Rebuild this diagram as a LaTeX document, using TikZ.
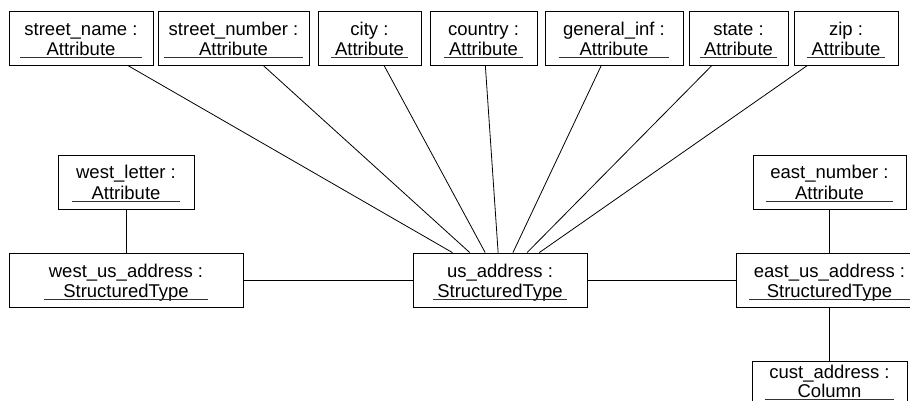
\documentclass[tikz,border=0pt]{standalone}
\usepackage{fontspec}
\setmainfont{Liberation Sans}
\usepackage{tikz}

% object label: name on top, type underlined below
\newlength{\objwd}
\newcommand{\objlabel}[3][24pt]{%
  \settowidth{\objwd}{#2}%
  \setbox0=\hbox{#3}%
  \ifdim\wd0>\objwd \objwd=\wd0 \fi
  \addtolength{\objwd}{9pt}%
  \begin{tabular}{@{}c@{}}
    \rule{0pt}{#1}#2\\
    \makebox[\objwd]{#3}\llap{\color{black!80}\rule[-2.5pt]{\objwd}{0.8pt}}\rule[-10pt]{0pt}{0pt}
  \end{tabular}}

\begin{document}
\begin{tikzpicture}[x=1pt, y=-1pt,
  objbox/.style={draw, line width=0.8pt, fill=white, inner sep=0pt, font=\fontsize{18.5}{20}\selectfont},
  link/.style={line width=0.8pt}
]
  \useasboundingbox (0,0) rectangle (910,401);
  \clip (0,0) rectangle (910,401);

  % Top row attributes
  \node[objbox, minimum width=144pt] (streetname) at (81,38.5) {\objlabel{street\_name :}{Attribute}};
  \node[objbox, minimum width=151pt] (streetnumber) at (233.5,38.5) {\objlabel{street\_number :}{Attribute}};
  \node[objbox, minimum width=103pt] (city) at (369.5,38.5) {\objlabel{city :}{Attribute}};
  \node[objbox, minimum width=107pt] (country) at (483.5,38.5) {\objlabel{country :}{Attribute}};
  \node[objbox, minimum width=138pt] (generalinf) at (614,38.5) {\objlabel{general\_inf :}{Attribute}};
  \node[objbox, minimum width=99pt] (state) at (738.5,38.5) {\objlabel{state :}{Attribute}};
  \node[objbox, minimum width=104pt] (zip) at (846,38.5) {\objlabel{zip :}{Attribute}};

  % Structured types
  \node[objbox, minimum width=174pt] (usaddr) at (500,280) {\objlabel{us\_address :}{StructuredType}};
  \node[objbox, minimum width=234pt] (westaddr) at (126,280) {\objlabel{west\_us\_address :}{StructuredType}};
  \node[objbox, minimum width=187pt] (eastaddr) at (829.5,280) {\objlabel{east\_us\_address :}{StructuredType}};

  % Side attributes and column
  \node[objbox, minimum width=136pt] (westletter) at (126,182) {\objlabel{west\_letter :}{Attribute}};
  \node[objbox, minimum width=153pt] (eastnumber) at (829.5,182) {\objlabel{east\_number :}{Attribute}};
  \node[objbox, minimum width=155pt, font=\fontsize{18.5}{16}\selectfont] (custaddr) at (829.5,384) {\objlabel[18pt]{cust\_address :}{Column}};

  % Links
  \foreach \attr in {streetname, streetnumber, city, country, generalinf, state, zip}
    \draw[link] (usaddr) -- (\attr);
  \draw[link] (westaddr) -- (usaddr);
  \draw[link] (usaddr) -- (eastaddr);
  \draw[link] (westletter) -- (westaddr);
  \draw[link] (eastnumber) -- (eastaddr);
  \draw[link] (eastaddr) -- (custaddr);
\end{tikzpicture}
\end{document}
